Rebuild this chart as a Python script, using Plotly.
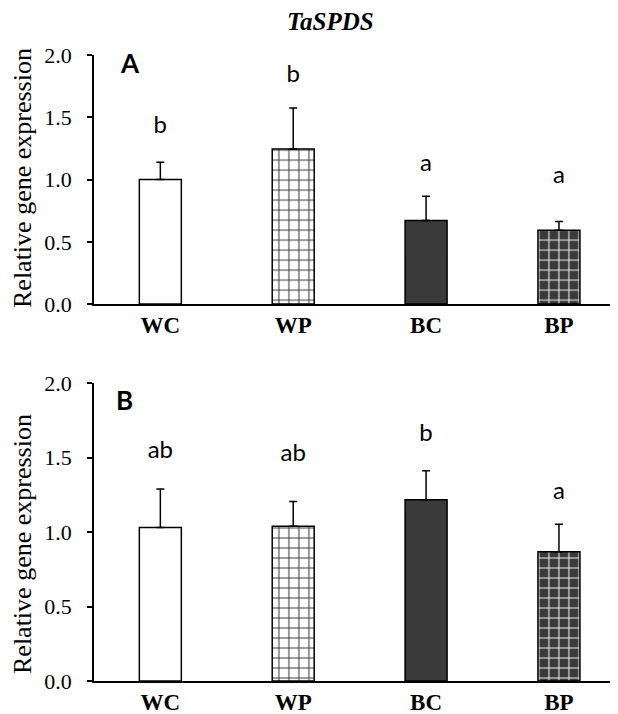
import plotly.graph_objects as go
from plotly.subplots import make_subplots

categories = ["WC", "WP", "BC", "BP"]

# panel A
a_means = [1.00, 1.245, 0.672, 0.592]
a_err = [0.14, 0.33, 0.193, 0.072]
a_letters = ["b", "b", "a", "a"]
a_letter_y = [1.42, 1.83, 1.12, 1.02]

# panel B
b_means = [1.03, 1.039, 1.216, 0.867]
b_err = [0.258, 0.166, 0.195, 0.185]
b_letters = ["ab", "ab", "b", "a"]
b_letter_y = [1.54, 1.52, 1.65, 1.26]

serif = "Liberation Serif, Times New Roman, serif"
sans = "Lato, Open Sans, sans-serif"

# fill style per category: (background, pattern shape, pattern line colour)
styles = {
    "WC": ("white", "", "black"),
    "WP": ("white", "+", "#404040"),
    "BC": ("#3a3a3a", "", "black"),
    "BP": ("#3a3a3a", "+", "#eeeeee"),
}

fig = make_subplots(rows=2, cols=1)

for row, means, err, letters, ly in [
    (1, a_means, a_err, a_letters, a_letter_y),
    (2, b_means, b_err, b_letters, b_letter_y),
]:
    for cat, m, e in zip(categories, means, err):
        bg, shape, fg = styles[cat]
        fig.add_trace(
            go.Bar(
                x=[cat],
                y=[m],
                width=0.316,
                marker=dict(
                    color=bg,
                    line=dict(color="black", width=1.5),
                    pattern=dict(shape=shape, fgcolor=fg, bgcolor=bg,
                                 size=10, solidity=0.2, fillmode="replace"),
                ),
                error_y=dict(
                    type="data",
                    symmetric=False,
                    array=[e],
                    arrayminus=[0],
                    color="black",
                    thickness=1.5,
                    width=4,
                ),
                showlegend=False,
            ),
            row=row,
            col=1,
        )
    fig.add_trace(
        go.Scatter(
            x=categories,
            y=ly,
            mode="text",
            text=letters,
            textfont=dict(family=sans, size=24, color="black"),
            showlegend=False,
            hoverinfo="skip",
        ),
        row=row,
        col=1,
    )

axis_x = dict(
    showline=True,
    linecolor="black",
    linewidth=1.5,
    ticks="",
    showgrid=False,
    automargin=False,
    tickfont=dict(family=serif, size=23, color="black", weight="bold"),
    ticklabelstandoff=0,
    range=[-0.5, 3.5],
)
axis_y = dict(
    showline=True,
    linecolor="black",
    linewidth=1.5,
    ticks="outside",
    ticklen=5,
    tickwidth=1.5,
    tickcolor="black",
    showgrid=False,
    zeroline=False,
    automargin=False,
    range=[0, 2.0],
    tickvals=[0, 0.5, 1.0, 1.5, 2.0],
    ticktext=["0.0", "0.5", "1.0", "1.5", "2.0"],
    tickfont=dict(family=serif, size=22, color="black"),
    ticklabelstandoff=11,
)


def paper(x, y):
    return x / 618, 1 - y / 714


def label(text, x, y, size, family, angle=0):
    px, py = paper(x, y)
    return dict(
        text=text, x=px, y=py, xref="paper", yref="paper",
        xanchor="center", yanchor="middle", showarrow=False, textangle=angle,
        font=dict(family=family, size=size, color="black"),
    )


fig.update_layout(
    width=618,
    height=714,
    margin=dict(l=0, r=0, t=0, b=0, pad=0),
    paper_bgcolor="white",
    plot_bgcolor="white",
    barmode="overlay",
    xaxis=dict(axis_x, domain=[0.139, 0.999]),
    xaxis2=dict(axis_x, domain=[0.139, 0.999]),
    yaxis=dict(axis_y, domain=[0.5854, 0.934]),
    yaxis2=dict(axis_y, domain=[0.0574, 0.4748]),
    annotations=[
        label("<b><i>TaSPDS</i></b>", 322, 13, 25, serif),
        label("<b>A</b>", 122, 55, 26, sans),
        label("<b>B</b>", 116, 392, 26, sans),
        label("Relative gene expression", 14, 170, 26, serif, -90),
        label("Relative gene expression", 14, 536, 26, serif, -90),
    ],
)

fig.write_html("out.html")
